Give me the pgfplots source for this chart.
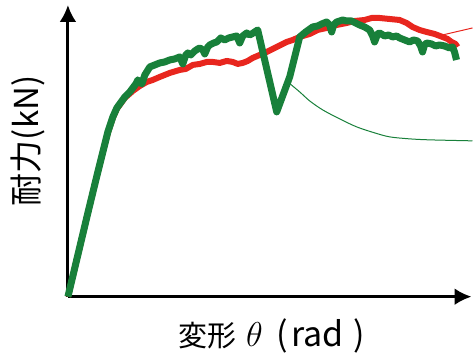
\documentclass[border=0pt]{standalone}
\usepackage{pgfplots}
\pgfplotsset{compat=1.18}
\usepackage{fontspec}
\usetikzlibrary{arrows.meta}
\newfontfamily\cjk{Noto Sans CJK JP}
\definecolor{cred}{RGB}{232,38,30}
\definecolor{cgreen}{RGB}{24,128,58}
\begin{document}
\begin{tikzpicture}
\begin{axis}[
  x=0.5pt, y=0.5pt,
  xmin=68, xmax=472, ymin=57, ymax=349,
  axis lines=left,
  axis line style={line width=1.5pt, -{Latex[length=8.5pt,width=8.5pt]}},
  xtick=\empty, ytick=\empty,
  clip=false,
  xlabel={{\cjk\fontsize{14.5}{16}\selectfont 変形}\hspace{5pt}{\fontsize{16}{18}\selectfont$\theta$}\hspace{7pt}{\cjk\fontsize{17}{18}\selectfont (\hspace{1.5pt}rad\hspace{5pt})}},
  ylabel={\cjk\fontsize{16.5}{18}\selectfont 耐力(kN)},
  xlabel style={at={(axis description cs:0.505,-0.134)}, anchor=center, inner sep=0pt},
  ylabel style={at={(axis description cs:-0.099,0.534)}, anchor=center, inner sep=0pt},
]
\addplot[cred, line width=0.5pt] coordinates {(443,319) (473,326)};
\addplot[cgreen, line width=0.5pt, smooth] coordinates {
(288,272) (300,262) (310,253) (323,244) (340,235) (357,227) (375,221) (390,217) (410,215) (430,214) (473,213)};
\addplot[cred, line width=3pt, line join=round] coordinates {
(68,57) (78,99) (88,141) (97,178) (103,202) (108,221) (113,236) (117,245) (125,256) (133,263) (140,268) (147,272) (153,274) (160,277) (170,281) (180,284) (186,285) (193,289) (200,290) (207,292) (213,292) (220,291) (227,293) (233,292) (238,290) (243,291) (248,293) (253,296) (260,299) (267,302) (275,306) (287,312) (293,314) (300,317) (310,320) (318,324) (327,326) (337,329) (347,331) (355,333) (365,334) (372,336) (380,336) (390,335) (400,334) (407,331) (413,327) (420,324) (427,322) (435,320) (443,317) (448,315) (452,312) (456,310) (458,307)};
\addplot[cgreen, line width=3.5pt, line join=round] coordinates {
(68,57) (78,99) (88,141) (97,178) (103,202) (108,222) (113,237) (117,246) (125,257) (130,262) (133,266) (136,270) (138,274) (142,270) (145,279) (150,287) (155,289) (160,291) (165,292) (170,294) (175,295) (180,297) (183,290) (186,299) (188,301) (191,299) (195,303) (198,305) (200,306) (203,304) (205,300) (208,307) (210,309) (214,311) (217,312) (221,316) (225,314) (229,316) (233,317) (237,318) (240,311) (243,318) (247,321) (250,319) (252,320) (255,322) (258,324) (277,242) (290,277) (300,317) (306,322) (313,327) (318,328) (322,330) (327,332) (330,329) (332,322) (334,329) (337,332) (343,334) (347,333) (352,333) (356,331) (360,329) (365,327) (370,324) (373,318) (375,312) (378,320) (380,321) (385,318) (389,319) (393,317) (397,318) (400,316) (405,314) (410,312) (414,314) (418,313) (421,308) (423,302) (425,309) (427,311) (432,310) (436,308) (440,309) (445,308) (450,306) (453,307) (455,302) (457,294)};
\path (axis cs:0,0) rectangle (axis cs:473,354);
\end{axis}
\end{tikzpicture}
\end{document}
